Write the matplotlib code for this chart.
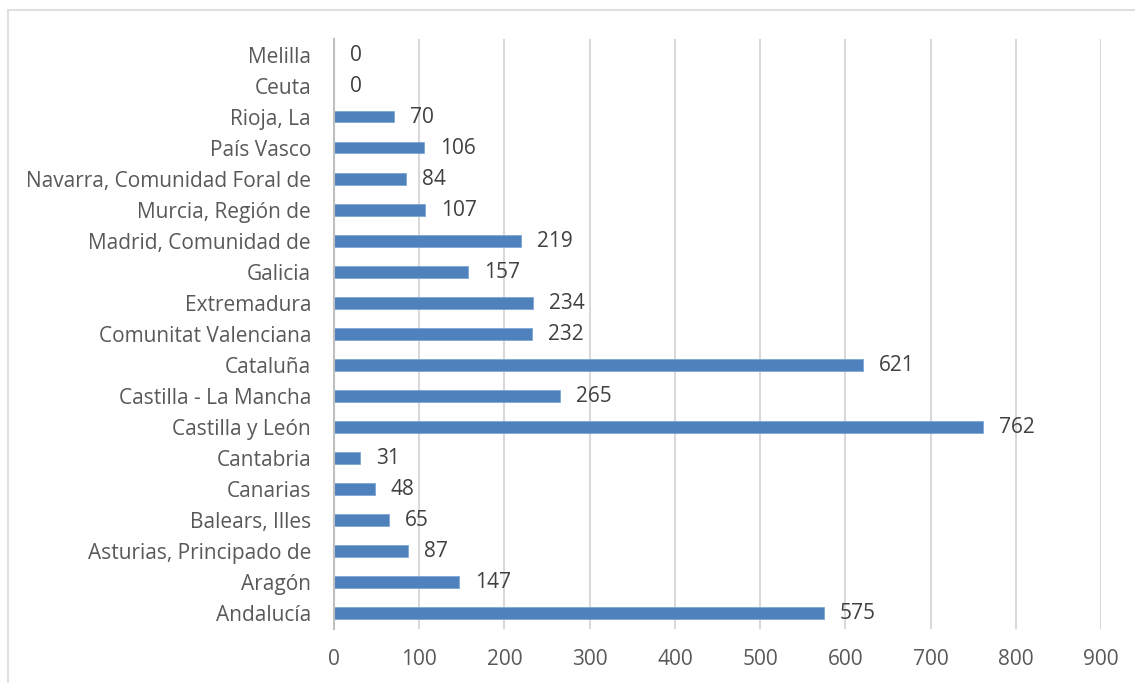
import matplotlib.pyplot as plt
from matplotlib.lines import Line2D

plt.rcParams['font.family'] = ['Open Sans', 'DejaVu Sans']

# comunidades, de abajo arriba
regiones = ["Andalucía", "Aragón", "Asturias, Principado de", "Balears, Illes",
            "Canarias", "Cantabria", "Castilla y León", "Castilla - La Mancha",
            "Cataluña", "Comunitat Valenciana", "Extremadura", "Galicia",
            "Madrid, Comunidad de", "Murcia, Región de",
            "Navarra, Comunidad Foral de", "País Vasco", "Rioja, La",
            "Ceuta", "Melilla"]
valores = [575, 147, 87, 65, 48, 31, 762, 265, 621, 232, 234, 157, 219,
           107, 84, 106, 70, 0, 0]
ticks_x = [0, 100, 200, 300, 400, 500, 600, 700, 800, 900]

W, H = 1135, 683
fig = plt.figure(figsize=(W / 100, H / 100), dpi=100)

# marco del gráfico (solo se ven los bordes superior e izquierdo)
borde = "#d9d9d9"
fig.add_artist(Line2D([8 / W, 1], [1 - 10 / H, 1 - 10 / H], color=borde, lw=1.2))
fig.add_artist(Line2D([8 / W, 8 / W], [0, 1 - 10 / H], color=borde, lw=1.2))

ax = fig.add_axes([334 / W, 1 - 628.5 / H, (1101 - 334) / W, (628.5 - 39) / H])

pos = list(range(len(regiones)))
ax.barh(pos, valores, height=0.38, color="#4f81bd", edgecolor="#7ea6d8",
        linewidth=0.6, zorder=3)

for y, v in zip(pos, valores):
    ax.annotate(str(v), (v, y), xytext=(11.5, -0.5), textcoords="offset points",
                ha="left", va="center", fontsize=15, color="#404040")

ax.set_xlim(0, 900)
ax.set_ylim(-0.5, len(regiones) - 0.5)
ax.set_xticks(ticks_x)
ax.set_yticks(pos)
ax.set_yticklabels(regiones)

ax.grid(axis="x", color="#d9d9d9", linewidth=1.5, zorder=0)
for s in ["top", "right", "bottom"]:
    ax.spines[s].set_visible(False)
ax.spines["left"].set_color("#bfbfbf")
ax.spines["left"].set_linewidth(1.5)
ax.spines["left"].set_zorder(4)

ax.tick_params(axis="both", length=0, labelsize=15, labelcolor="#595959")
ax.tick_params(axis="y", pad=16.5)
ax.tick_params(axis="x", pad=15)

fig.savefig("out.png", dpi=100)
